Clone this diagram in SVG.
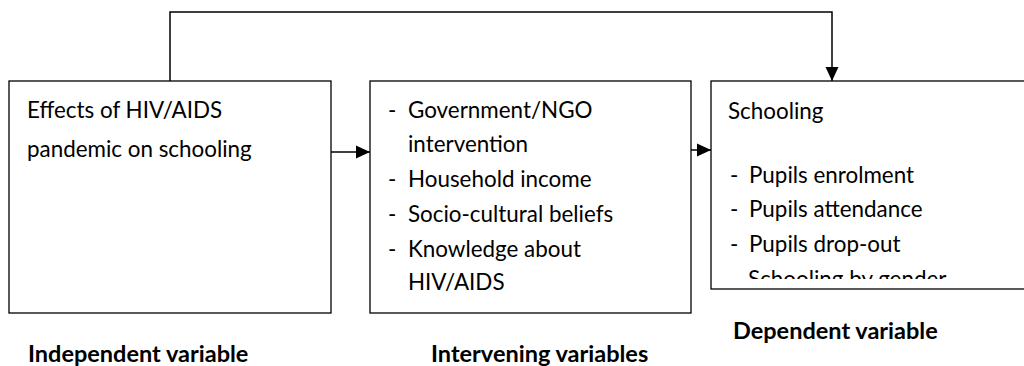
<svg xmlns="http://www.w3.org/2000/svg" width="1024" height="366" viewBox="0 0 1024 366">
<style>
.box{fill:#fff;stroke:#000;stroke-width:1.3}
.t{font-family:Lato,"Liberation Sans",sans-serif;font-size:22.4px;fill:#000}
.b{font-family:Lato,"Liberation Sans",sans-serif;font-size:23.5px;font-weight:bold;fill:#000}
.c{fill:none;stroke:#000;stroke-width:1.5}
</style>
<defs>
<marker id="ah" markerWidth="14" markerHeight="14" viewBox="0 0 14 14" refX="14" refY="7" orient="auto" markerUnits="userSpaceOnUse">
<path d="M0,0.5 L14,7 L0,13.5 Z" fill="#000"/>
</marker>
<clipPath id="cl3"><rect x="711" y="81" width="320" height="198"/></clipPath>
</defs>
<g id="connectors">
<path class="c" d="M170,81 V12 H832 V81" marker-end="url(#ah)"/>
<path class="c" d="M331,152 H370" marker-end="url(#ah)"/>
<path class="c" d="M691,150 H711" marker-end="url(#ah)"/>
</g>
<g id="independent">
<rect class="box" x="9" y="81" width="322" height="232"/>
<text class="t" x="27" y="118">Effects of HIV/AIDS</text>
<text class="t" x="27" y="157">pandemic on schooling</text>
</g>
<g id="intervening">
<rect class="box" x="370" y="81" width="321" height="232"/>
<text class="t" x="388" y="118">-</text><text class="t" x="408" y="118">Government/NGO</text>
<text class="t" x="408" y="152">intervention</text>
<text class="t" x="388" y="187">-</text><text class="t" x="408" y="187">Household income</text>
<text class="t" x="388" y="222">-</text><text class="t" x="408" y="222">Socio-cultural beliefs</text>
<text class="t" x="388" y="257">-</text><text class="t" x="408" y="257">Knowledge about</text>
<text class="t" x="408" y="290">HIV/AIDS</text>
</g>
<g id="dependent">
<rect class="box" x="711" y="81" width="330" height="208"/>
<text class="t" x="728" y="119">Schooling</text>
<g clip-path="url(#cl3)">
<text class="t" x="730" y="183">-</text><text class="t" x="749" y="183">Pupils enrolment</text>
<text class="t" x="730" y="217">-</text><text class="t" x="749" y="217">Pupils attendance</text>
<text class="t" x="730" y="252">-</text><text class="t" x="749" y="252">Pupils drop-out</text>
<text class="t" x="748" y="287">Schooling by gender</text>
</g>
</g>
<g id="labels">
<text class="b" x="28" y="362">Independent variable</text>
<text class="b" x="431" y="362">Intervening variables</text>
<text class="b" x="733" y="339">Dependent variable</text>
</g>
</svg>
